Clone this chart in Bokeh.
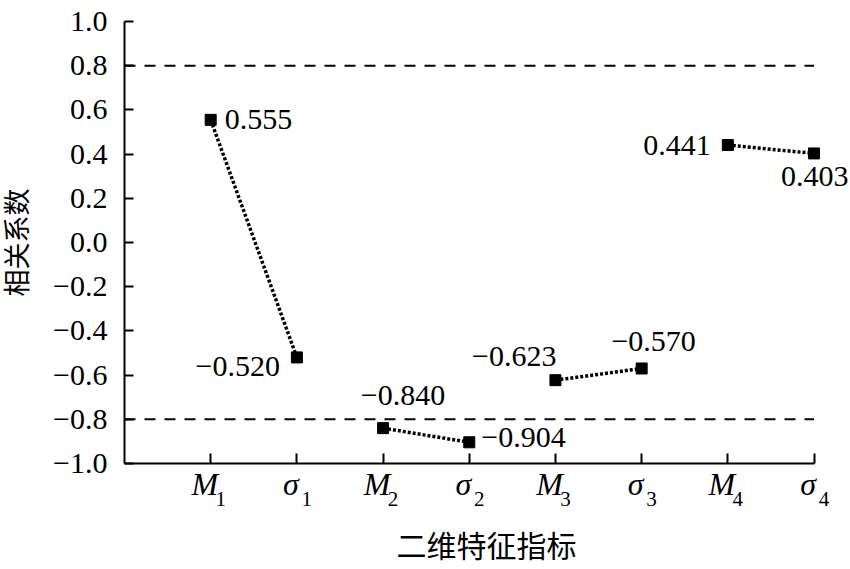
from bokeh.plotting import figure
from bokeh.models import (Label, FixedTicker, CustomJSTickFormatter, Range1d,
                          LinearAxis)
from bokeh.embed import file_html
from bokeh.resources import INLINE

# ---------------- data ----------------
categories = ["M1", "σ1", "M2", "σ2", "M3", "σ3", "M4", "σ4"]
cat_symbols = ["M", "σ", "M", "σ", "M", "σ", "M", "σ"]
cat_subscripts = ["1", "1", "2", "2", "3", "3", "4", "4"]
values = [0.555, -0.520, -0.840, -0.904, -0.623, -0.570, 0.441, 0.403]
y_ticks = [-1.0, -0.8, -0.6, -0.4, -0.2, 0.0, 0.2, 0.4, 0.6, 0.8, 1.0]
ref_levels = [0.8, -0.8]
x_title = "二维特征指标"
y_title = "相关系数"

# ---------------- layout-only settings ----------------
SERIF = "Liberation Serif"
CJK = "Liberation Sans, Noto Sans CJK SC"
PX_PER_UNIT = 86.4
# (x_offset, y_offset, align) for each value label
label_layout = [
    (14, 0, "left"),
    (-17, -9, "right"),
    (20, 33, "center"),
    (12, 5, "left"),
    (1, 24, "right"),
    (12, 27, "center"),
    (-17, 0, "right"),
    (-33, -23, "left"),
]

n = len(categories)
xs = list(range(1, n + 1))
x_end = 8.40

p = figure(width=848, height=567, output_backend="svg", toolbar_location=None,
           x_range=Range1d(0, x_end), y_range=Range1d(y_ticks[0], y_ticks[-1]),
           min_border_left=122, min_border_right=0, min_border_top=21,
           min_border_bottom=104)
p.outline_line_color = None
p.xgrid.visible = False
p.ygrid.visible = False
p.background_fill_color = "white"
p.border_fill_color = "white"

# y axis
ya = p.yaxis[0]
ya.ticker = FixedTicker(ticks=y_ticks)
ya.formatter = CustomJSTickFormatter(code="return tick.toFixed(1).replace('-', '\\u2212');")
ya.major_tick_in = 9
ya.major_tick_out = 0
ya.minor_tick_line_color = None
ya.axis_line_width = 2
ya.major_tick_line_width = 2
ya.axis_line_color = "black"
ya.major_tick_line_color = "black"
ya.major_label_text_font = SERIF
ya.major_label_text_font_size = "30px"
ya.major_label_text_color = "black"
ya.major_label_standoff = 17
ya.axis_label = y_title
ya.axis_label_text_font = CJK
ya.axis_label_text_font_size = "27px"
ya.axis_label_text_font_style = "normal"
ya.axis_label_text_color = "black"
ya.axis_label_standoff = 17

# main x axis: line and inward ticks only
xa = p.xaxis[0]
xa.ticker = FixedTicker(ticks=xs)
xa.bounds = (0, n)
xa.formatter = CustomJSTickFormatter(code="return '';")
xa.major_label_text_font_size = "1px"
xa.major_tick_in = 10
xa.major_tick_out = 0
xa.minor_tick_line_color = None
xa.axis_line_width = 2
xa.major_tick_line_width = 2
xa.axis_line_color = "black"
xa.major_tick_line_color = "black"
xa.major_label_standoff = 0

# category symbols (italic) and subscripts on slightly shifted ranges
sym_shift = 6 / PX_PER_UNIT
sub_shift = -10 / PX_PER_UNIT
p.extra_x_ranges = {
    "sym": Range1d(0 + sym_shift, x_end + sym_shift),
    "sub": Range1d(0 + sub_shift, x_end + sub_shift),
}
label_code = ("const i = Math.round(tick) - 1;"
              "return (i >= 0 && i < labels.length) ? labels[i] : '';")

sym_axis = LinearAxis(x_range_name="sym", ticker=FixedTicker(ticks=xs),
                      formatter=CustomJSTickFormatter(args=dict(labels=cat_symbols),
                                                      code=label_code))
sym_axis.axis_line_color = None
sym_axis.major_tick_line_color = None
sym_axis.minor_tick_line_color = None
sym_axis.major_tick_in = 0
sym_axis.major_tick_out = 0
sym_axis.major_label_standoff = 2
sym_axis.major_label_text_font = SERIF
sym_axis.major_label_text_font_style = "italic"
sym_axis.major_label_text_font_size = "32px"
sym_axis.major_label_text_color = "black"
p.add_layout(sym_axis, "below")

sub_axis = LinearAxis(x_range_name="sub", ticker=FixedTicker(ticks=xs),
                      formatter=CustomJSTickFormatter(args=dict(labels=cat_subscripts),
                                                      code=label_code))
sub_axis.axis_line_color = None
sub_axis.major_tick_line_color = None
sub_axis.minor_tick_line_color = None
sub_axis.major_tick_in = 0
sub_axis.major_tick_out = 0
sub_axis.major_label_standoff = -13
sub_axis.major_label_text_font = SERIF
sub_axis.major_label_text_font_size = "21px"
sub_axis.major_label_text_color = "black"
sub_axis.axis_label = x_title
sub_axis.axis_label_text_font = CJK
sub_axis.axis_label_text_font_size = "30px"
sub_axis.axis_label_text_font_style = "normal"
sub_axis.axis_label_text_color = "black"
sub_axis.axis_label_standoff = 21
p.add_layout(sub_axis, "below")

# dashed reference lines, spanning the category axis
p.segment(x0=[0] * len(ref_levels), y0=ref_levels,
          x1=[n] * len(ref_levels), y1=ref_levels,
          line_color="black", line_width=2, line_dash="11 9")

# dotted connecting segments (M_i -> sigma_i)
p.segment(x0=xs[0::2], y0=values[0::2], x1=xs[1::2], y1=values[1::2],
          line_color="black", line_width=3.5, line_dash="3 2")

# square markers
p.scatter(x=xs, y=values, marker="square", size=11, color="black")

# value labels
for x, v, (dx, dy, al) in zip(xs, values, label_layout):
    txt = f"{v:.3f}".replace("-", "\u2212")
    p.add_layout(Label(x=x, y=v, text=txt, x_offset=dx, y_offset=dy,
                       text_align=al, text_baseline="alphabetic",
                       text_font=SERIF, text_font_size="30px", text_color="black"))

open("out.html", "w").write(file_html(p, INLINE))
